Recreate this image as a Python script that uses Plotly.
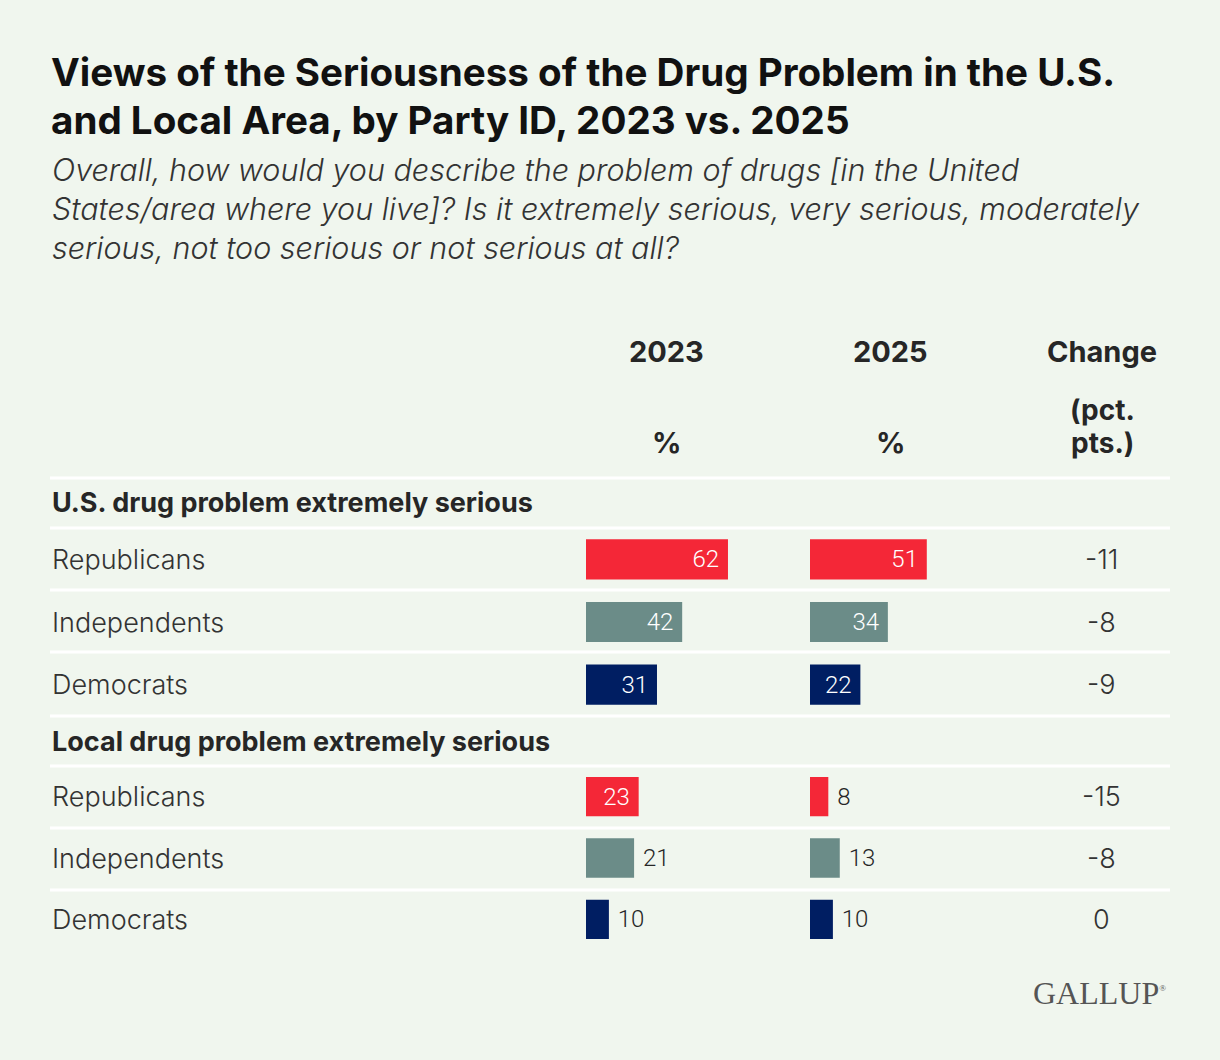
import plotly.graph_objects as go

# ---------------- data ----------------
parties = ["Republicans", "Independents", "Democrats"]
us_2023 = [62, 42, 31]
us_2025 = [51, 34, 22]
us_change = [-11, -8, -9]
local_2023 = [23, 21, 10]
local_2025 = [8, 13, 10]
local_change = [-15, -8, 0]

title_lines = ["Views of the Seriousness of the Drug Problem in the U.S.",
               "and Local Area, by Party ID, 2023 vs. 2025"]
subtitle_lines = ["Overall, how would you describe the problem of drugs [in the United",
                  "States/area where you live]? Is it extremely serious, very serious, moderately",
                  "serious, not too serious or not serious at all?"]
section_titles = ["U.S. drug problem extremely serious", "Local drug problem extremely serious"]

# ---------------- style ----------------
W, H = 1220, 1060
BG = "#F0F6EE"
party_colors = ["#F42737", "#6B8C88", "#001E62"]
DARK = "#262626"
FONT = "Inter"


def px(x):
    return x / W


def py(y):
    return 1 - y / H


SCALE = 2.29  # pixels per percentage point
XMAX = 80
c23_left, c25_left = 586, 810
dom23 = [px(c23_left), px(c23_left + XMAX * SCALE)]
dom25 = [px(c25_left), px(c25_left + XMAX * SCALE)]
us_dom = [py(716), py(528)]
loc_dom = [py(950), py(766)]

fig = go.Figure()


def add_bars(vals, xa, ya):
    pos = ["inside" if v >= 22 else "outside" for v in vals]
    txt = [f"{v} " if p == "inside" else f" {v}" for v, p in zip(vals, pos)]
    fig.add_trace(go.Bar(
        x=vals, y=parties, orientation="h", xaxis=xa, yaxis=ya,
        marker=dict(color=party_colors, line=dict(width=0)),
        width=0.64,
        text=txt, textposition=pos,
        insidetextanchor="end", constraintext="none",
        insidetextfont=dict(color="white", size=24, family="Roboto", weight=300),
        outsidetextfont=dict(color=DARK, size=24, family="Roboto", weight=300),
        cliponaxis=False, hoverinfo="skip", showlegend=False,
    ))


add_bars(us_2023, "x", "y")
add_bars(us_2025, "x2", "y")
add_bars(local_2023, "x3", "y2")
add_bars(local_2025, "x4", "y2")

hidden = dict(showgrid=False, zeroline=False, showticklabels=False, showline=False, ticks="", fixedrange=True)
fig.update_layout(
    xaxis=dict(domain=dom23, range=[0, XMAX], anchor="y", **hidden),
    xaxis2=dict(domain=dom25, range=[0, XMAX], anchor="y", **hidden),
    xaxis3=dict(domain=dom23, range=[0, XMAX], anchor="y2", **hidden),
    xaxis4=dict(domain=dom25, range=[0, XMAX], anchor="y2", **hidden),
    yaxis=dict(domain=us_dom, type="category", categoryorder="array", categoryarray=parties,
               autorange="reversed", anchor="x", **hidden),
    yaxis2=dict(domain=loc_dom, type="category", categoryorder="array", categoryarray=parties,
                autorange="reversed", anchor="x3", **hidden),
)

ann = []
# title
for i, t in enumerate(title_lines):
    ann.append(dict(text=f"<b>{t}</b>", x=px(49), y=py(72 + 48 * i), xref="paper", yref="paper",
                    xanchor="left", yanchor="middle", showarrow=False,
                    font=dict(family=FONT, size=38.6, color="#111111")))
for i, t in enumerate(subtitle_lines):
    ann.append(dict(text=f"<i>{t}</i>", x=px(50), y=py(169 + 39.5 * i), xref="paper", yref="paper",
                    xanchor="left", yanchor="middle", showarrow=False,
                    font=dict(family=FONT, size=30.5, color="#333333", weight=300)))

# column headers
hdr_font = dict(family=FONT, size=29, color=DARK, weight=700)
for xc, t in [(666, "2023"), (890, "2025"), (1102, "Change")]:
    ann.append(dict(text=t, x=px(xc), y=py(352), xref="paper", yref="paper", xanchor="center",
                    yanchor="middle", showarrow=False, font=hdr_font))
for xc in (666, 890):
    ann.append(dict(text="%", x=px(xc), y=py(442), xref="paper", yref="paper", xanchor="center",
                    yanchor="middle", showarrow=False, font=hdr_font))
sub_hdr_font = dict(family=FONT, size=28, color=DARK, weight=700)
ann.append(dict(text="(pct.", x=px(1102), y=py(410), xref="paper", yref="paper", xanchor="center",
                yanchor="middle", showarrow=False, font=sub_hdr_font))
ann.append(dict(text="pts.)", x=px(1102), y=py(443), xref="paper", yref="paper", xanchor="center",
                yanchor="middle", showarrow=False, font=sub_hdr_font))

# section titles
for yc, t in zip((502, 741), section_titles):
    ann.append(dict(text=t, x=px(50), y=py(yc), xref="paper", yref="paper", xanchor="left",
                    yanchor="middle", showarrow=False, font=dict(family=FONT, size=27, color=DARK, weight=700)))

# party labels and change values
row_font = dict(family=FONT, size=27, color="#333333", weight=300)
for yref, changes in (("y", us_change), ("y2", local_change)):
    for p, c in zip(parties, changes):
        ann.append(dict(text=p, x=px(50), y=p, xref="paper", yref=yref, xanchor="left",
                        yanchor="middle", showarrow=False, font=row_font))
        ann.append(dict(text=str(c), x=px(1101), y=p, xref="paper", yref=yref, xanchor="center",
                        yanchor="middle", showarrow=False, font=row_font))

# logo
ann.append(dict(text='GALLUP<sup><span style="font-size:9px">®</span></sup>', x=px(1168), y=py(993),
                xref="paper", yref="paper", xanchor="right", yanchor="middle", showarrow=False,
                font=dict(family="Liberation Serif", size=32, color="#555555")))

# separator lines
shapes = []
for yl in (478, 528, 590, 652, 716, 766, 828, 890):
    shapes.append(dict(type="line", xref="paper", yref="paper", x0=px(50), x1=px(1170),
                       y0=py(yl), y1=py(yl), line=dict(color="white", width=3)))

fig.update_layout(
    width=W, height=H, margin=dict(l=0, r=0, t=0, b=0),
    paper_bgcolor=BG, plot_bgcolor="rgba(0,0,0,0)",
    annotations=ann, shapes=shapes, showlegend=False,
    barmode="overlay",
)

fig.write_html("out.html",
               config={"displayModeBar": False},
               post_script="document.body.style.margin='0px';document.body.style.overflow='hidden';"
                           "document.body.style.background='" + BG + "';")
